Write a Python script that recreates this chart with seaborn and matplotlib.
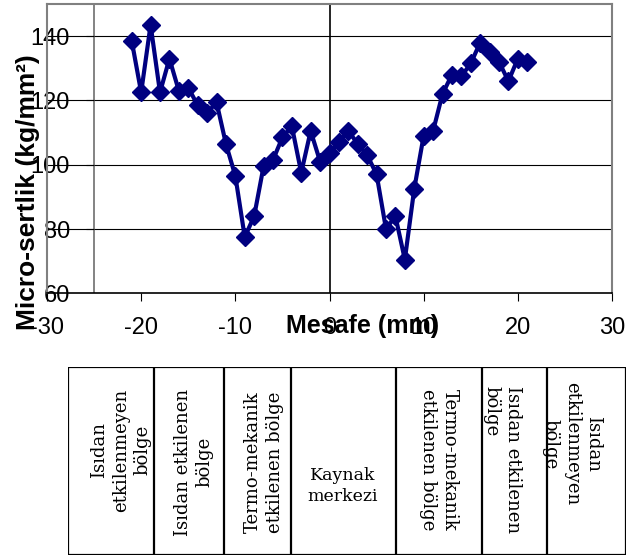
import numpy as np
import pandas as pd
import matplotlib
matplotlib.use("Agg")
from matplotlib import pyplot as plt
import seaborn as sns

# distance from weld centre (mm) and micro-hardness readings
mesafe = [-21, -20, -19, -18, -17, -16, -15, -14, -13, -12, -11,
          -10, -9, -8, -7, -6, -5, -4, -3, -2, -1,
          0, 1, 2, 3, 4, 5, 6, 7, 8, 9, 10,
          11, 12, 13, 14, 15, 16, 17, 18, 19, 20, 21]
sertlik = [138.5, 122.5, 143.5, 122.5, 133, 123, 124, 118.5, 116, 119.5, 106.5,
           96.5, 77.5, 84, 99.5, 101.5, 108.5, 112, 97.5, 110.5, 101,
           103.5, 107, 110.5, 106.5, 103, 97, 80, 84, 70.5, 92.5, 109,
           110.5, 122, 128, 127.5, 131.5, 138, 135, 132, 126, 133, 132]

x_ticks = [-30, -20, -10, 0, 10, 20, 30]
y_ticks = [60, 80, 100, 120, 140]

# zone table under the chart
zone_labels = ["Isıdan\netkilenmeyen\nbölge",
               "Isıdan etkilenen\nbölge",
               "Termo-mekanik\netkilenen bölge",
               "Kaynak\nmerkezi",
               "Termo-mekanik\netkilenen bölge",
               "Isıdan etkilenen\nbölge",
               "Isıdan\netkilenmeyen\nbölge"]
zone_rot = [90, 90, 90, 0, 270, 270, 270]
# layout (pixel positions inside the table box)
col_edges = [68, 154, 224, 291, 396, 482, 547, 626]
zone_xy = [(121, 450), (194, 462), (264, 462), (343, 486),
           (439, 460), (502, 460), (572, 444)]

df = pd.DataFrame({"Mesafe": mesafe, "Sertlik": sertlik})

sns.set_style("white")
plt.rcParams['font.family'] = ['Liberation Sans', 'DejaVu Sans']
plt.rcParams['axes.unicode_minus'] = False
plt.rcParams['text.color'] = 'black'
plt.rcParams['axes.labelcolor'] = 'black'
plt.rcParams['xtick.color'] = 'black'
plt.rcParams['ytick.color'] = 'black'

fig = plt.figure(figsize=(6.42, 5.57), dpi=100)
ax = fig.add_axes([47/642, 1 - 293.3/557, 565/642, 289.3/557])

navy = "#000080"
sns.lineplot(data=df, x="Mesafe", y="Sertlik", sort=False, ax=ax,
             color=navy, linewidth=3, marker="D", markersize=9.5,
             markeredgecolor=navy, markeredgewidth=1, zorder=5)

ax.set_xlim(-30, 30)
ax.set_ylim(60, 150)
ax.set_xticks(x_ticks)
ax.set_yticks(y_ticks)

for yv in y_ticks[1:]:
    ax.axhline(yv, color="black", lw=0.8, zorder=1)
ax.axvline(-25, color="#6e6e6e", lw=1.2, zorder=1)
ax.hlines(y_ticks, -25.85, -25, color="black", lw=0.8, zorder=1)
ax.axvline(0, color="black", lw=1.2, zorder=1)

for side in ["left", "top", "right"]:
    ax.spines[side].set_color("#808080")
    ax.spines[side].set_linewidth(1.5)
ax.spines["bottom"].set_color("black")
ax.spines["bottom"].set_linewidth(1.2)

ax.tick_params(axis="x", direction="out", length=6, width=0.8,
               color="black", labelcolor="black", pad=11, labelsize=17,
               bottom=True)
ax.tick_params(axis="y", length=0, pad=-16.5, labelsize=17,
               labelcolor="black")

ax.set_xlabel("Mesafe (mm)", fontsize=18, fontweight="bold", color="black")
ax.xaxis.set_label_coords(0.559, -0.07)
ax.set_ylabel("Micro-sertlik (kg/mm²)", fontsize=19, fontweight="bold",
              color="black")
ax.yaxis.set_label_coords(-0.012, 0.35)

# table of zones
tab = fig.add_axes([68/642, 1 - 555/557, 558/642, 188/557])
tab.set_xlim(68, 626)
tab.set_ylim(555, 367)
tab.axis("off")
for xe in col_edges:
    tab.axvline(xe, color="black", lw=1.6)
tab.axhline(367, color="black", lw=1.6)
tab.axhline(555, color="black", lw=1.6)

for lab, rot, (tx, ty) in zip(zone_labels, zone_rot, zone_xy):
    ma = "left" if lab == zone_labels[5] and rot == 270 else "center"
    size = 12.5 if rot == 0 else 13
    tab.text(tx, ty, lab, rotation=rot, ha="center", va="center",
             multialignment=ma, fontsize=size, family="DejaVu Serif",
             linespacing=1.25, rotation_mode="anchor", color="black")

fig.savefig("out.png", dpi=100)
